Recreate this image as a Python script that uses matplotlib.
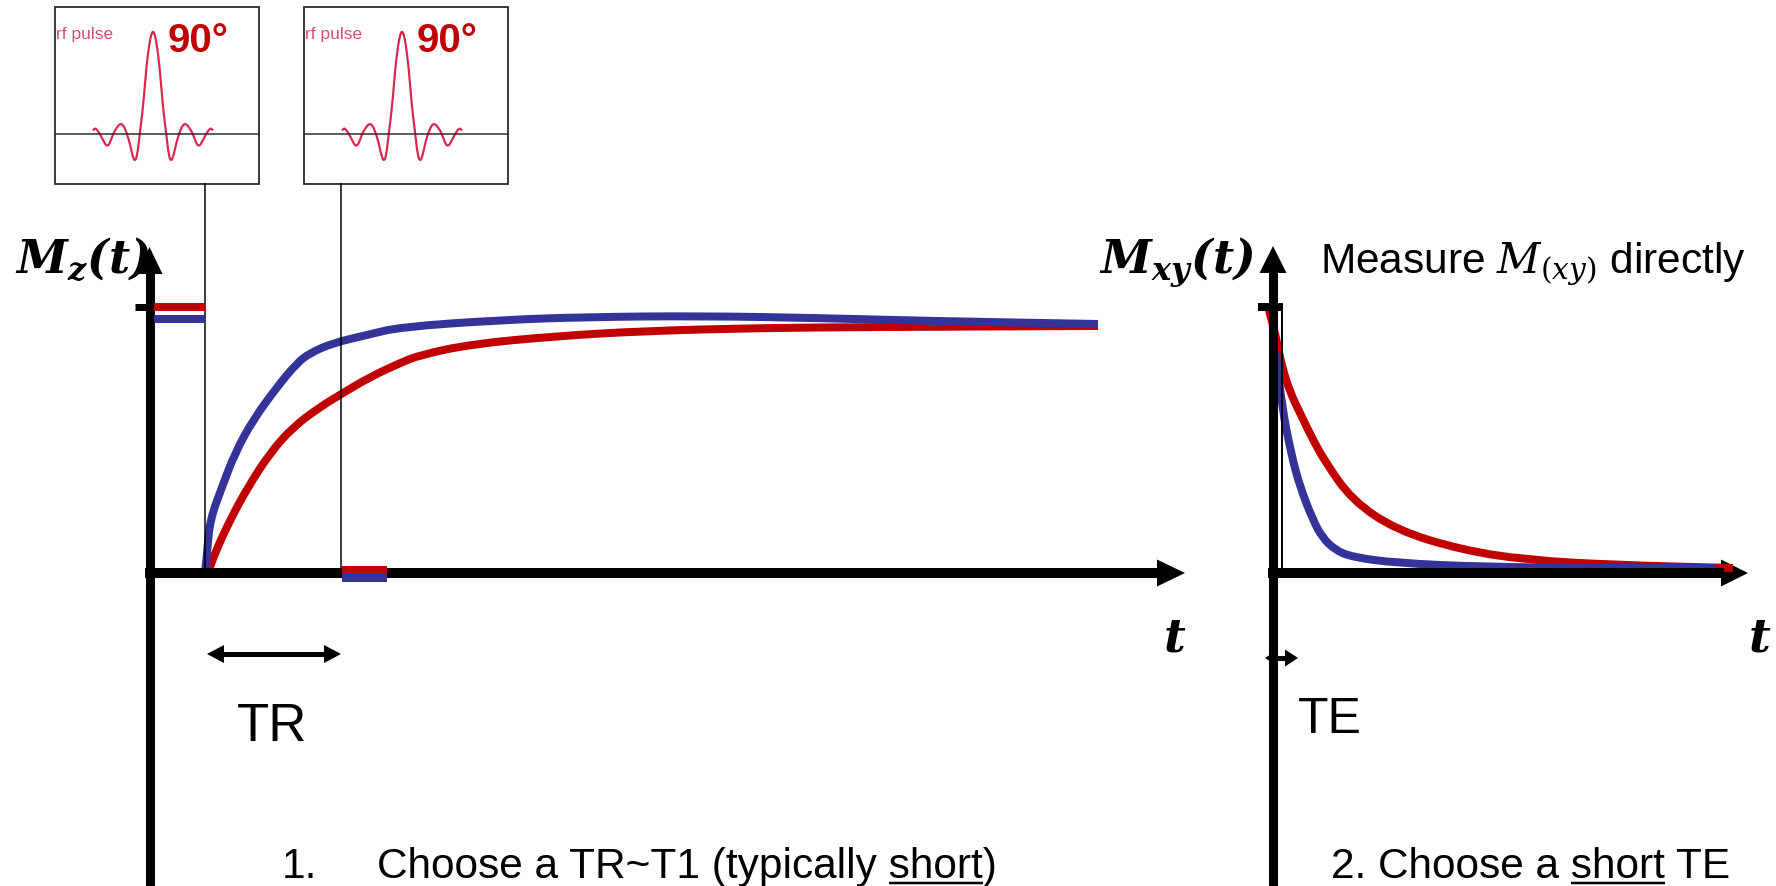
import matplotlib
matplotlib.use("Agg")
import matplotlib.pyplot as plt
from matplotlib.patches import Polygon, Rectangle, PathPatch
from matplotlib.path import Path

W, H = 1776, 886
RED = "#C00000"
BLUE = "#333399"
PULSE = "#D8284F"

# curves, picture pixel coords (y down)
mz_red_x = [208, 215, 230, 248, 270, 293, 320, 343, 370, 400, 420, 472, 558, 644, 759, 874, 1098]
mz_red_y = [573, 553, 520, 487, 453, 427, 407, 393, 377, 363, 355, 344, 336, 331, 328, 327, 326]
mz_blue_x = [205, 207, 210, 222, 235, 253, 277, 297, 310, 333, 367, 400, 501, 587, 702, 817, 931, 1098]
mz_blue_y = [573, 553, 520, 487, 453, 420, 387, 363, 353, 343, 335, 327, 320, 317, 316, 318, 321, 324]

mxy_red_x = [1269, 1276, 1282, 1290, 1300, 1313, 1326, 1352, 1396, 1462, 1527, 1615, 1733]
mxy_red_y = [310, 337, 367, 392, 413, 440, 463, 500, 530, 550, 560, 565, 568]
mxy_blue_x = [1276, 1282, 1291, 1300, 1313, 1322, 1335, 1352, 1396, 1484, 1615, 1715]
mxy_blue_y = [353, 407, 453, 487, 520, 537, 550, 557, 563, 567, 568, 568]

# rf pulse shape: offset from pulse centre, height above box baseline
pulse_dx = [-60, -58, -56.5, -53, -49, -46, -43, -40, -36.5, -33, -29.5, -26, -23, -20.5, -18, -15.5, -13.3,
            -11, -9, -6.6, -4, -2, 0, 2, 4, 6.6, 9, 11, 13.3, 15.5, 18, 20.5, 23, 26, 29.5, 33, 36.5,
            40, 43, 46, 49, 53, 56.5, 58, 60]
pulse_dy = [3.5, 5.7, 5, 0, -8, -12.7, -9, 0, 6, 10.5, 9, 0, -10, -22, -27.7, -20, 0,
            18, 38, 67, 88, 99, 103.3, 99, 88, 67, 38, 18, 0, -20, -27.7, -22, -10, 0, 9, 10.5, 6,
            0, -9, -12.7, -8, 0, 5, 5.7, 3.5]
box_left = [55, 304]

fig = plt.figure(figsize=(W / 100, H / 100), dpi=100)
ax = fig.add_axes([0, 0, 1, 1])
ax.set_xlim(0, W)
ax.set_ylim(H, 0)
ax.axis("off")
plt.rcParams["mathtext.fontset"] = "dejavuserif"
sans = ["Liberation Sans", "DejaVu Sans"]


def px(v):
    return v * 0.72


def smooth(xs, ys, color, lw):
    # quadratic bezier through the read points (points act as control points)
    pts = list(zip(xs, ys))
    verts = [pts[0], ((pts[0][0] + pts[1][0]) / 2, (pts[0][1] + pts[1][1]) / 2)]
    codes = [Path.MOVETO, Path.LINETO]
    for i in range(1, len(pts) - 1):
        a, b = pts[i], pts[i + 1]
        verts += [a, ((a[0] + b[0]) / 2, (a[1] + b[1]) / 2)]
        codes += [Path.CURVE3, Path.CURVE3]
    verts.append(pts[-1])
    codes.append(Path.LINETO)
    ax.add_patch(PathPatch(Path(verts, codes), fill=False, ec=color, lw=px(lw),
                           capstyle="butt", joinstyle="round"))


def arrow(x0, y0, x1, y1, lw, hl, hw, both=False):
    dx, dy = x1 - x0, y1 - y0
    n = (dx * dx + dy * dy) ** 0.5
    ux, uy = dx / n, dy / n
    sx, sy = x0, y0
    ex, ey = x1 - ux * hl * 0.9, y1 - uy * hl * 0.9
    if both:
        sx, sy = x0 + ux * hl * 0.9, y0 + uy * hl * 0.9
    ax.plot([sx, ex], [sy, ey], color="k", lw=px(lw), solid_capstyle="butt")
    tips = [(x1, y1, ux, uy)]
    if both:
        tips.append((x0, y0, -ux, -uy))
    for tx, ty, vx, vy in tips:
        bx, by = tx - vx * hl, ty - vy * hl
        ax.add_patch(Polygon([(tx, ty), (bx - vy * hw, by + vx * hw), (bx + vy * hw, by - vx * hw)],
                             closed=True, color="k", lw=0))


# rf pulse boxes
for bx in box_left:
    ax.add_patch(Rectangle((bx, 7), 204, 177, fill=False, ec="#2a2a2a", lw=px(1.8)))
    ax.plot([bx, bx + 204], [134, 134], color="#2a2a2a", lw=px(1.5))
    cx = bx + 98
    smooth([cx + d for d in pulse_dx], [134 - v for v in pulse_dy], PULSE, 2.2)
    ax.text(bx + 1, 39, "rf pulse", family=sans, fontsize=12.5, color="#D9506E", va="baseline")
    ax.text(bx + 113, 52, "90°", family=sans, fontsize=29, weight="bold", color=RED, va="baseline")

# pulse lines down to axis
ax.plot([205, 205], [184, 573], color="k", lw=px(1.5))
ax.plot([341, 341], [184, 573], color="k", lw=px(1.5))
ax.plot([1282, 1282], [307, 573], color="k", lw=px(2))

# left axes
arrow(149.5, H + 5, 149.5, 247, 9, 27, 13)
arrow(145, 573, 1185, 573, 10, 28, 13.5)
ax.plot([135, 150], [307, 307], color="k", lw=px(7), solid_capstyle="butt")
# right axes
arrow(1273, H + 5, 1273, 246, 9, 27, 13.5)
arrow(1268, 573, 1748, 573, 10, 27, 13.5)
ax.plot([1258, 1283], [307, 307], color="k", lw=px(8), solid_capstyle="butt")

# initial / remaining magnetisation marks
ax.plot([154, 205], [307, 307], color=RED, lw=px(8), solid_capstyle="butt")
ax.plot([154, 205], [319, 319], color=BLUE, lw=px(8), solid_capstyle="butt")
ax.plot([342, 387], [570, 570], color=RED, lw=px(8), solid_capstyle="butt")
ax.plot([342, 387], [578, 578], color=BLUE, lw=px(8), solid_capstyle="butt")

# curves
smooth(mz_red_x, mz_red_y, RED, 8)
smooth(mz_blue_x, mz_blue_y, BLUE, 8)
smooth(mxy_red_x, mxy_red_y, RED, 8)
smooth(mxy_blue_x, mxy_blue_y, BLUE, 8)

# TR / TE arrows
arrow(207, 654, 341, 654, 5, 17, 9, both=True)
arrow(1265, 658, 1298, 658, 5, 13, 8.5, both=True)

# labels
ax.text(15, 273, r"$\mathbfit{M}_{\mathbfit{z}}\mathbfit{(t)}$", fontsize=33, va="baseline")
ax.text(1099, 273, r"$\mathbfit{M}_{\mathbfit{xy}}\mathbfit{(t)}$", fontsize=33, va="baseline")
ax.text(1163, 652, r"$\mathbfit{t}$", fontsize=34, va="baseline")
ax.text(1748, 652, r"$\mathbfit{t}$", fontsize=34, va="baseline")
ax.text(1320, 272, r"Measure $M_{(xy)}$ directly", family=sans, fontsize=30.5, va="baseline")
ax.text(237, 741, "TR", family=sans, fontsize=38, va="baseline")
ax.text(1298, 733, "TE", family=sans, fontsize=36, va="baseline")

fig.canvas.draw()
rend = fig.canvas.get_renderer()


def underlined(x, y, text, word, size):
    ax.text(x, y, text, family=sans, fontsize=size, va="baseline")
    head = text[:text.index(word) + len(word)]
    t1 = ax.text(x, y, head, family=sans, fontsize=size, va="baseline", alpha=0)
    t2 = ax.text(x, y, word, family=sans, fontsize=size, va="baseline", alpha=0)
    end = t1.get_window_extent(rend).x1
    w = t2.get_window_extent(rend).width
    ax.plot([end - w, end], [y + 5, y + 5], color="k", lw=px(2.5), solid_capstyle="butt")


ax.text(282, 878, "1.", family=sans, fontsize=30.5, va="baseline")
underlined(377, 878, "Choose a TR~T1 (typically short)", "short", 30.5)
underlined(1331, 878, "2. Choose a short TE", "short", 30.5)

fig.savefig("out.png", dpi=100)
